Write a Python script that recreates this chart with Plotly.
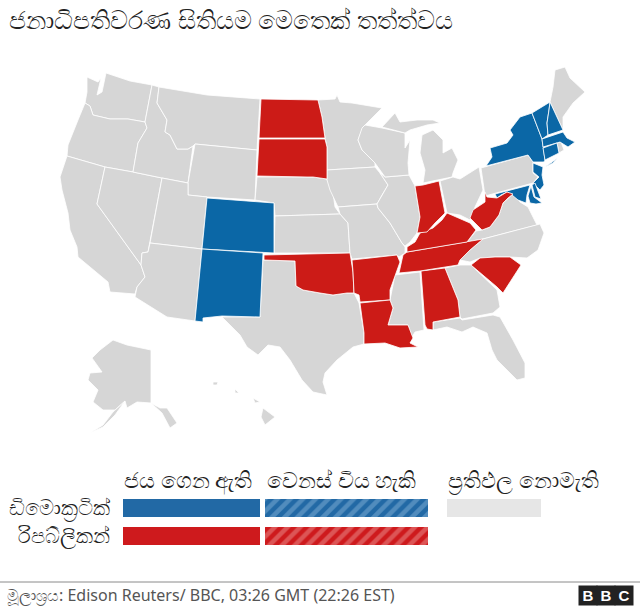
import plotly.graph_objects as go

# no topojson without network, so state outlines are read off the picture (x, y in image pixels)
WA = [(87,77),(98,82),(101,78),(98,90),(97,95),(102,92),(104,82),(106,73),(130,81),(152,85),(145,122),(128,119),(110,119),(93,115),(90,106),(85,103),(87,92)]
OR = [(85,103),(90,106),(93,115),(110,119),(128,119),(145,122),(147,128),(138,143),(133,172),(105,167),(67,156),(68,145),(78,120)]
CA = [(67,156),(105,167),(97,204),(141,265),(145,277),(137,287),(135,294),(110,292),(108,282),(90,267),(78,257),(77,247),(70,230),(68,213),(62,190),(60,177)]
NV = [(105,167),(133,172),(162,178),(150,243),(148,252),(142,253),(141,265),(97,204)]
ID = [(152,85),(159,87),(157,103),(167,120),(165,132),(170,135),(177,149),(188,149),(193,146),(188,183),(162,178),(133,172),(138,143),(147,128),(145,122)]
MT = [(159,87),(207,95),(260,99),(258,138),(257,150),(195,144),(193,146),(188,149),(177,149),(170,135),(165,132),(167,120),(157,103)]
WY = [(195,144),(257,150),(255,200),(207,197),(188,195),(188,183)]
UT = [(162,178),(188,183),(188,195),(207,197),(202,249),(150,243)]
AZ = [(150,243),(202,249),(195,321),(167,317),(135,297),(137,287),(145,277),(141,265),(142,253),(148,252)]
CO = [(207,198),(274,203),(274,253),(202,249)]
NM = [(202,249),(263,253),(260,317),(222,316),(203,318),(203,322),(195,321)]
ND = [(261,99),(318,100),(322,117),(325,138),(259,138)]
SD = [(259,139),(325,139),(327,147),(327,179),(313,177),(307,177),(257,176)]
NE = [(257,177),(307,177),(313,177),(327,179),(333,193),(335,207),(340,214),(275,216),(274,203),(255,200)]
KS = [(275,216),(340,214),(348,223),(350,253),(274,253)]
OK = [(264,255),(350,253),(353,272),(354,293),(347,293),(333,295),(320,293),(303,290),(296,286),(295,261),(264,260)]
TX = [(263,260),(295,261),(296,286),(303,290),(320,293),(333,295),(347,293),(354,293),(359,303),(364,333),(364,344),(353,347),(337,360),(325,373),(323,382),(327,395),(313,392),(302,380),(290,360),(280,347),(268,345),(258,355),(247,347),(240,335),(222,317),(260,317)]
MN = [(318,100),(335,99),(337,95),(340,102),(352,103),(363,105),(382,108),(363,127),(358,140),(362,150),(375,163),(375,167),(327,170),(327,147),(325,138),(322,117)]
IA = [(327,170),(375,167),(380,173),(388,185),(382,195),(377,204),(338,207),(330,190),(327,180)]
MO = [(338,207),(377,204),(378,208),(390,223),(402,243),(405,247),(405,253),(399,257),(397,255),(352,259),(350,253),(348,223),(340,214)]
AR = [(352,260),(397,255),(400,262),(395,277),(390,290),(390,300),(360,302),(359,295),(354,293),(353,272)]
LA = [(360,303),(390,300),(393,308),(388,325),(408,325),(413,338),(410,343),(418,347),(400,348),(385,343),(364,344),(364,333)]
MS = [(390,300),(395,275),(420,272),(424,330),(415,332),(412,337),(408,325),(388,325),(393,308)]
AL = [(421,271),(445,268),(458,300),(460,317),(433,322),(433,330),(427,329),(425,325)]
GA = [(445,268),(460,265),(471,265),(497,290),(500,307),(493,313),(462,319),(460,317),(458,300)]
FL = [(433,322),(460,318),(462,320),(493,315),(500,317),(513,340),(525,363),(525,378),(517,380),(507,370),(497,360),(492,350),(487,333),(473,327),(462,332),(447,327),(433,330)]
SC = [(471,265),(480,258),(495,257),(510,257),(521,265),(503,293),(497,287)]
TN = [(399,273),(403,255),(407,252),(483,239),(470,250),(460,260),(458,265),(420,271)]
KY = [(407,252),(407,247),(415,242),(420,233),(433,228),(442,220),(447,213),(457,217),(470,223),(476,230),(467,242)]
IN = [(415,186),(423,185),(439,181),(445,213),(435,223),(427,232),(417,233),(420,217)]
IL = [(385,177),(409,175),(415,186),(420,217),(417,233),(410,242),(405,246),(402,243),(390,223),(378,208),(377,204),(382,195),(388,185),(380,173)]
WI = [(362,128),(365,125),(382,128),(405,133),(405,148),(410,140),(408,163),(409,175),(385,177),(375,163),(362,150),(358,140)]
MI_UP = [(382,127),(395,113),(400,122),(417,120),(433,120),(440,123),(427,125),(410,130),(405,133)]
MI_LOW = [(422,135),(433,130),(443,140),(443,153),(452,148),(458,160),(453,173),(452,177),(423,183),(425,170),(420,153)]
OH = [(440,181),(453,177),(460,179),(479,167),(483,190),(475,207),(470,220),(460,215),(447,213)]
WV = [(485,192),(487,197),(497,198),(507,192),(513,194),(508,198),(503,203),(499,215),(490,227),(482,230),(470,218),(473,210),(485,202)]
PA = [(481,168),(528,155),(533,162),(533,173),(538,177),(533,183),(485,196)]
NY = [(486,166),(492,157),(490,148),(507,143),(513,135),(510,130),(520,117),(532,113),(542,139),(545,160),(544,162),(533,162),(528,155)]
LI = [(545,167),(558,158),(553,163)]
NJ = [(533,163),(543,167),(542,175),(544,185),(540,190),(533,183),(539,177),(533,172)]
VT = [(532,113),(550,102),(549,110),(547,123),(548,135),(542,139)]
NH = [(550,102),(563,130),(548,135),(547,123),(549,110)]
ME = [(550,102),(553,87),(555,70),(565,67),(570,78),(585,92),(573,103),(563,117),(563,130)]
MA = [(542,139),(563,132),(567,138),(575,142),(568,147),(560,142),(543,147)]
CT = [(543,148),(557,143),(559,153),(545,160)]
RI = [(557,143),(561,142),(564,150),(559,153)]
MD = [(495,194),(530,185),(527,195),(526,203),(518,200),(512,195),(507,192),(501,195),(497,198)]
MD_E = [(531,186),(534,197),(542,203),(536,204),(530,203),(528,196)]
DE = [(532,185),(535,183),(541,199),(535,197)]
VA = [(476,231),(482,230),(490,227),(499,215),(503,203),(508,198),(513,194),(520,202),(528,207),(537,225),(483,239),(467,242)]
NC = [(483,239),(540,224),(544,233),(538,250),(527,258),(510,257),(495,257),(480,258),(470,262),(460,260),(470,250)]
AK = [(113,340),(127,345),(151,350),(151,403),(137,402),(127,408),(125,401),(115,410),(103,410),(93,402),(98,390),(88,380),(90,373),(102,372),(92,358),(100,350)]
AK_PEN = [(125,401),(115,415),(103,427),(90,433),(103,425),(113,412)]
AK_PAN = [(151,403),(160,408),(167,408),(177,423),(170,428),(162,413)]
HI_BIG = [(263,408),(275,417),(265,425),(261,417)]
HI_MAUI = [(253,398),(260,402),(255,403)]
HI_OAHU = [(235,389),(239,393),(235,393)]
HI_KAUAI = [(213,382),(218,382),(217,385),(213,385)]

grey_states = [WA, OR, CA, NV, ID, MT, WY, UT, AZ, NE, KS, TX, MN, IA, MO, MS, GA, FL, IL, WI, MI_UP, MI_LOW, OH, PA, ME, VA, NC, RI, AK, AK_PEN, AK_PAN, HI_BIG, HI_MAUI, HI_OAHU, HI_KAUAI]
blue_states = [CO, NM, NY, LI, NJ, VT, NH, MA, CT, MD, MD_E, DE]
red_states = [ND, SD, OK, AR, LA, AL, SC, TN, KY, IN, WV]

title = "ජනාධිපතිවරණ සිතියම මෙතෙක් තත්ත්වය"
col_labels = ["ජය ගෙන ඇති", "වෙනස් විය හැකි", "ප්‍රතිඵල නොමැති"]
row_labels = ["ඩිමොක්‍රටික්", "රිපබ්ලිකන්"]
source = "මූලාශ්‍රය: Edison Reuters/ BBC, 03:26 GMT (22:26 EST)"

GREY = "#d6d6d6"
BLUE = "#0b67a6"
RED = "#cc1b17"

fig = go.Figure()


def add_state(pts, colour):
    # close the ring and fill it
    xs = [p[0] for p in pts] + [pts[0][0]]
    ys = [p[1] for p in pts] + [pts[0][1]]
    fig.add_trace(go.Scatter(x=xs, y=ys, mode="lines", fill="toself", fillcolor=colour,
                             line=dict(color="white", width=0.8), hoverinfo="skip", showlegend=False))


for s in grey_states:
    add_state(s, GREY)
for s in blue_states:
    add_state(s, BLUE)
for s in red_states:
    add_state(s, RED)


def add_swatch(left, right, mid, colour, stripe=None):
    marker = dict(color=colour, line=dict(width=0))
    if stripe:
        marker["pattern"] = dict(shape="/", bgcolor=colour, fgcolor=stripe, size=9, solidity=0.5)
    fig.add_trace(go.Bar(x=[right - left], y=[mid], base=[left], width=18, orientation="h",
                         marker=marker, hoverinfo="skip", showlegend=False))


add_swatch(123, 260, 508, "#2269a5")
add_swatch(265, 428, 508, "#2269a5", "#7fb0d6")
add_swatch(447, 541, 508, "#e6e6e6")
add_swatch(123, 260, 536, "#ce1a1d")
add_swatch(265, 428, 536, "#ce1a1d", "#ea8f8f")

notes = [
    dict(x=7, y=19, text=title, xanchor="left", font=dict(size=25, color="#222222")),
    dict(x=122, y=479, text=col_labels[0], xanchor="left", font=dict(size=22, color="#222222")),
    dict(x=265, y=479, text=col_labels[1], xanchor="left", font=dict(size=22, color="#222222")),
    dict(x=446, y=479, text=col_labels[2], xanchor="left", font=dict(size=22, color="#222222")),
    dict(x=112, y=507, text=row_labels[0], xanchor="right", font=dict(size=21, color="#222222")),
    dict(x=112, y=535, text=row_labels[1], xanchor="right", font=dict(size=21, color="#222222")),
    dict(x=5, y=595, text=source, xanchor="left", font=dict(size=16, color="#555555")),
]
for letter, cx in zip("BBC", [588, 606, 624]):
    notes.append(dict(x=cx, y=595, text="<b>" + letter + "</b>", xanchor="center", width=16, height=17,
                      bgcolor="#222222", font=dict(size=15, color="white", family="Liberation Sans")))
for n in notes:
    n.update(xref="x", yref="y", showarrow=False, yanchor="middle", align=n.get("xanchor", "left"))
    n["font"].setdefault("family", "Noto Sans")

fig.update_layout(
    width=640, height=608, margin=dict(l=0, r=0, t=0, b=0),
    paper_bgcolor="white", plot_bgcolor="white", barmode="overlay", annotations=notes,
    xaxis=dict(range=[0, 640], visible=False, fixedrange=True),
    yaxis=dict(range=[608, 0], visible=False, fixedrange=True),
    shapes=[dict(type="line", xref="x", yref="y", x0=0, x1=640, y0=582, y1=582,
                 line=dict(color="#8a8a8a", width=1))],
)
# page default margin would push the figure 8px off
fig.write_html("out.html", config=dict(displayModeBar=False),
               post_script="document.body.style.margin='0';document.documentElement.style.overflow='hidden';")
